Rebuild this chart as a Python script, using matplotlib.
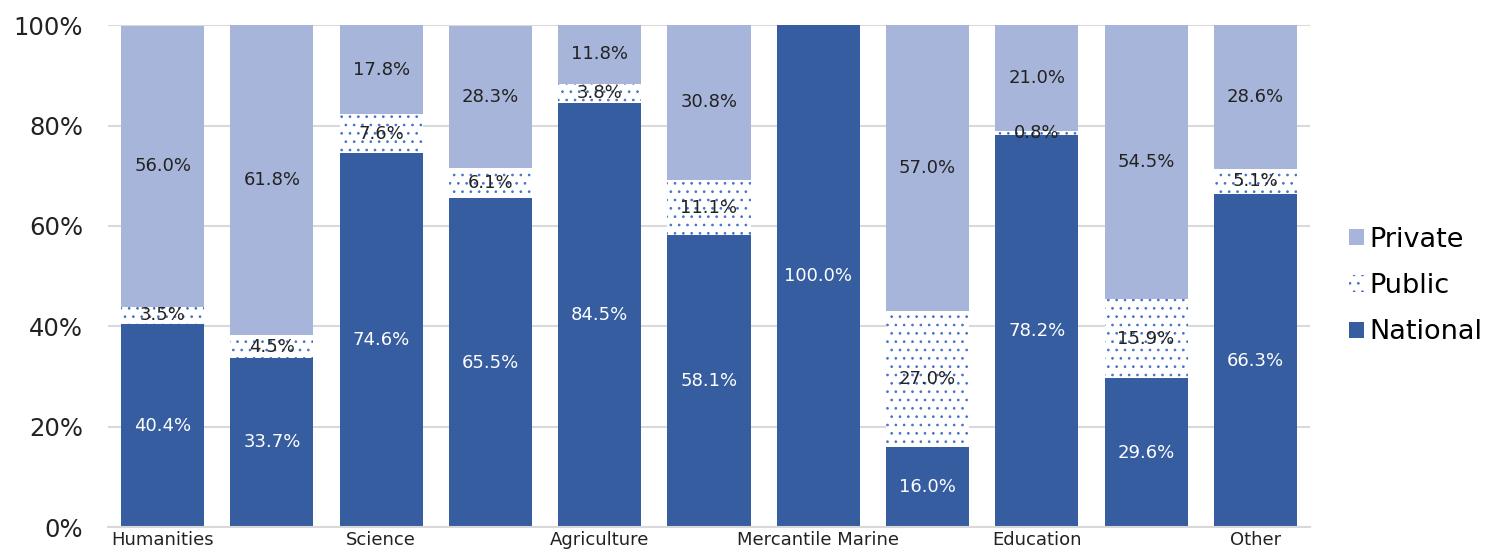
import numpy as np
import matplotlib.pyplot as plt

plt.rcParams['font.family'] = ['DejaVu Sans']
plt.rcParams['hatch.linewidth'] = 0.7

categories = ['Humanities', 'Social Science', 'Science', 'Engineering', 'Agriculture',
              'Health', 'Mercantile Marine', 'Home Economics', 'Education', 'Arts', 'Other']
national = [40.4, 33.7, 74.6, 65.5, 84.5, 58.1, 100.0, 16.0, 78.2, 29.6, 66.3]
public = [3.5, 4.5, 7.6, 6.1, 3.8, 11.1, 0.0, 27.0, 0.8, 15.9, 5.1]
private = [56.0, 61.8, 17.8, 28.3, 11.8, 30.8, 0.0, 57.0, 21.0, 54.5, 28.6]

c_nat = '#355DA0'
c_pub = '#4472C4'
c_pri = '#A8B5DA'

fig = plt.figure(figsize=(15.04, 5.59), dpi=100)
ax = fig.add_axes([0.0718, 0.0572, 0.7992, 0.8978])

x = np.arange(len(categories))
w = 0.76
nat = np.array(national)
pub = np.array(public)
pri = np.array(private)

b1 = ax.bar(x, nat, w, color=c_nat, label='National', zorder=2)
b2 = ax.bar(x, pub, w, bottom=nat, color='white', edgecolor=c_pub, hatch='..',
            linewidth=0, label='Public', zorder=2)
b3 = ax.bar(x, pri, w, bottom=nat + pub, color=c_pri, label='Private', zorder=2)

for i in range(len(x)):
    if nat[i] > 0:
        ax.text(x[i], nat[i] / 2, '%.1f%%' % nat[i], ha='center', va='center',
                color='white', fontsize=13, zorder=3)
    if pub[i] > 0:
        ax.text(x[i], nat[i] + pub[i] / 2, '%.1f%%' % pub[i], ha='center', va='center',
                color='#222222', fontsize=13, zorder=3)
    if pri[i] > 0:
        ax.text(x[i], nat[i] + pub[i] + pri[i] / 2, '%.1f%%' % pri[i], ha='center',
                va='center', color='#222222', fontsize=13, zorder=3)

ax.set_xlim(-0.5, len(x) - 0.5)
ax.set_ylim(0, 100)
ax.set_yticks(np.arange(0, 101, 20))
ax.set_yticklabels(['%d%%' % v for v in np.arange(0, 101, 20)], fontsize=17.5, color='#222222')
ax.set_xticks(x)
ax.set_xticklabels([c if i % 2 == 0 else '' for i, c in enumerate(categories)],
                   fontsize=13, color='#222222')
ax.tick_params(length=0, pad=3)
ax.tick_params(axis='y', pad=18)
ax.grid(axis='y', color='#D9D9D9', linewidth=1.5, zorder=0)
ax.set_axisbelow(True)
for s in ['top', 'right', 'left']:
    ax.spines[s].set_visible(False)
ax.spines['bottom'].set_color('#D9D9D9')
ax.spines['bottom'].set_linewidth(1.5)

leg = ax.legend(handles=[b3, b2, b1], loc='center left', bbox_to_anchor=(1.012, 0.48),
                frameon=False, fontsize=19.5, handlelength=0.55, handleheight=0.55,
                handletextpad=0.2, labelspacing=0.75)

fig.savefig('out.png', dpi=100)
